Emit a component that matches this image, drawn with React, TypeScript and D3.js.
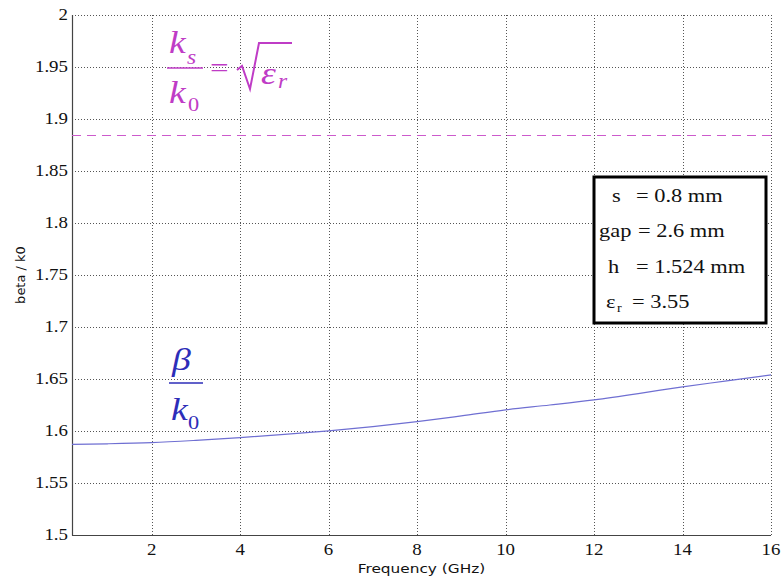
import React from 'react';
import * as d3 from 'd3';

// Normalized propagation constant of the guided mode vs frequency
const freqGHz = [0.2, 1, 2, 3, 4, 5, 6, 7, 8, 9, 10, 11, 12, 13, 14, 15, 16];
const betaOverK0 = [1.5872, 1.5877, 1.5888, 1.591, 1.5937, 1.5967, 1.6002, 1.6043, 1.609, 1.6145, 1.6203, 1.625, 1.63, 1.636, 1.6425, 1.6482, 1.654];

// Substrate permittivity; surface-wave limit ks/k0 = sqrt(er)
const epsR = 3.55;

const xTicks = [2, 4, 6, 8, 10, 12, 14, 16];
const yTicks = [1.5, 1.55, 1.6, 1.65, 1.7, 1.75, 1.8, 1.85, 1.9, 1.95, 2];

const paramNames = ['s', 'gap', 'h', 'ε'];
const paramValues = ['= 0.8 mm', '= 2.6 mm', '= 1.524 mm', '= 3.55'];

const W = 783;
const H = 583;
const M = { left: 72, right: 771, top: 15, bottom: 535 };
const SX = 1.18; // horizontal text stretch

const serif = 'Liberation Serif, Times New Roman, Times, DejaVu Serif, serif';
const sans = 'DejaVu Sans, Verdana, sans-serif';
const magenta = '#bf3cc6';
const blue = '#2d2db8';

function T(props: {
  x: number;
  y: number;
  size: number;
  family?: string;
  italic?: boolean;
  anchor?: 'start' | 'middle' | 'end';
  fill?: string;
  children: React.ReactNode;
}) {
  const { x, y, size, family = serif, italic, anchor = 'start', fill = '#111', children } = props;
  return (
    <text
      transform={`translate(${x},${y}) scale(${SX},1)`}
      style={{ fontFamily: family, fontSize: size, fontStyle: italic ? 'italic' : 'normal' }}
      textAnchor={anchor}
      fill={fill}
    >
      {children}
    </text>
  );
}

export default function App() {
  const x = d3.scaleLinear().domain([0.2, 16]).range([M.left, M.right]);
  const y = d3.scaleLinear().domain([1.5, 2]).range([M.bottom, M.top]);

  const line = d3
    .line<number>()
    .x((_, i) => x(freqGHz[i]))
    .y((d) => y(d))
    .curve(d3.curveMonotoneX);

  const ksY = Math.round(y(Math.sqrt(epsR))) + 0.5;

  return (
    <div style={{ position: 'absolute', left: 0, top: 0 }}>
      <svg width={W} height={H} style={{ display: 'block', background: '#fff' }}>
        {/* grid */}
        <g stroke="#555" strokeWidth={1} strokeDasharray="1,2">
          {xTicks.map((t) => (
            <line key={'gx' + t} x1={Math.round(x(t)) + 0.5} x2={Math.round(x(t)) + 0.5} y1={M.top} y2={M.bottom} />
          ))}
          {yTicks.filter((t) => t > 1.5).map((t) => (
            <line key={'gy' + t} x1={M.left} x2={M.right} y1={Math.round(y(t)) + 0.5} y2={Math.round(y(t)) + 0.5} />
          ))}
        </g>

        {/* axes */}
        <line x1={M.left + 0.5} x2={M.left + 0.5} y1={M.top} y2={M.bottom + 0.5} stroke="#444" strokeWidth={1.2} />
        <line x1={M.left} x2={M.right} y1={M.bottom + 0.5} y2={M.bottom + 0.5} stroke="#444" strokeWidth={1.2} />

        {/* tick labels */}
        {yTicks.map((t) => (
          <T key={'yl' + t} x={M.left - 4} y={y(t) + 5} size={16} anchor="end">
            {d3.format('')(t)}
          </T>
        ))}
        {xTicks.map((t) => (
          <T key={'xl' + t} x={x(t)} y={555} size={16} anchor="middle">
            {t}
          </T>
        ))}

        {/* axis titles */}
        <T x={(M.left + M.right) / 2} y={573} size={13} family={sans} anchor="middle">
          Frequency (GHz)
        </T>
        <text
          transform={`translate(25,${(M.top + M.bottom) / 2}) rotate(-90)`}
          style={{ fontFamily: sans, fontSize: 13 }}
          textAnchor="middle"
          fill="#111"
        >
          beta / k0
        </text>

        {/* surface-wave limit */}
        <line
          x1={M.left}
          x2={M.right}
          y1={ksY}
          y2={ksY}
          stroke="#cc5acc"
          strokeWidth={1}
          strokeDasharray="9,6"
        />

        {/* dispersion curve */}
        <path d={line(betaOverK0) || ''} fill="none" stroke="#6f6fd2" strokeWidth={1.2} />

        {/* ks / k0 = sqrt(er) */}
        <T x={169} y={53} size={32} italic fill={magenta}>k</T>
        <T x={187} y={64} size={20} italic fill={magenta}>s</T>
        <line x1={167} x2={203} y1={68} y2={68} stroke={magenta} strokeWidth={1.5} />
        <T x={169} y={103} size={32} italic fill={magenta}>k</T>
        <T x={188} y={111} size={19} fill={magenta}>0</T>
        <T x={210} y={77} size={28} fill={magenta}>=</T>
        <path
          d="M237,70 L242,66 L250,89 L259,43 L292,43"
          fill="none"
          stroke={magenta}
          strokeWidth={2}
          strokeLinejoin="miter"
        />
        <T x={261} y={84} size={32} italic fill={magenta}>ε</T>
        <T x={278} y={88} size={20} italic fill={magenta}>r</T>

        {/* beta / k0 */}
        <T x={172} y={370} size={32} italic fill={blue}>β</T>
        <line x1={169} x2={203} y1={383} y2={383} stroke={blue} strokeWidth={1.5} />
        <T x={171} y={420} size={32} italic fill={blue}>k</T>
        <T x={188} y={429} size={19} fill={blue}>0</T>

        {/* structure parameters */}
        <rect x={594} y={177} width={172} height={146} fill="#fff" stroke="#000" strokeWidth={3} />
        {paramNames.map((n, i) => {
          const by = 202 + i * 35.3;
          const nx = [612, 599, 608, 606][i];
          const vx = [636, 638, 636, 632][i];
          return (
            <g key={n}>
              <T x={nx} y={by} size={19}>{n}</T>
              {n === 'ε' && (
                <T x={617} y={by + 4} size={12}>r</T>
              )}
              <T x={vx} y={by} size={19}>{paramValues[i]}</T>
            </g>
          );
        })}
      </svg>
    </div>
  );
}
